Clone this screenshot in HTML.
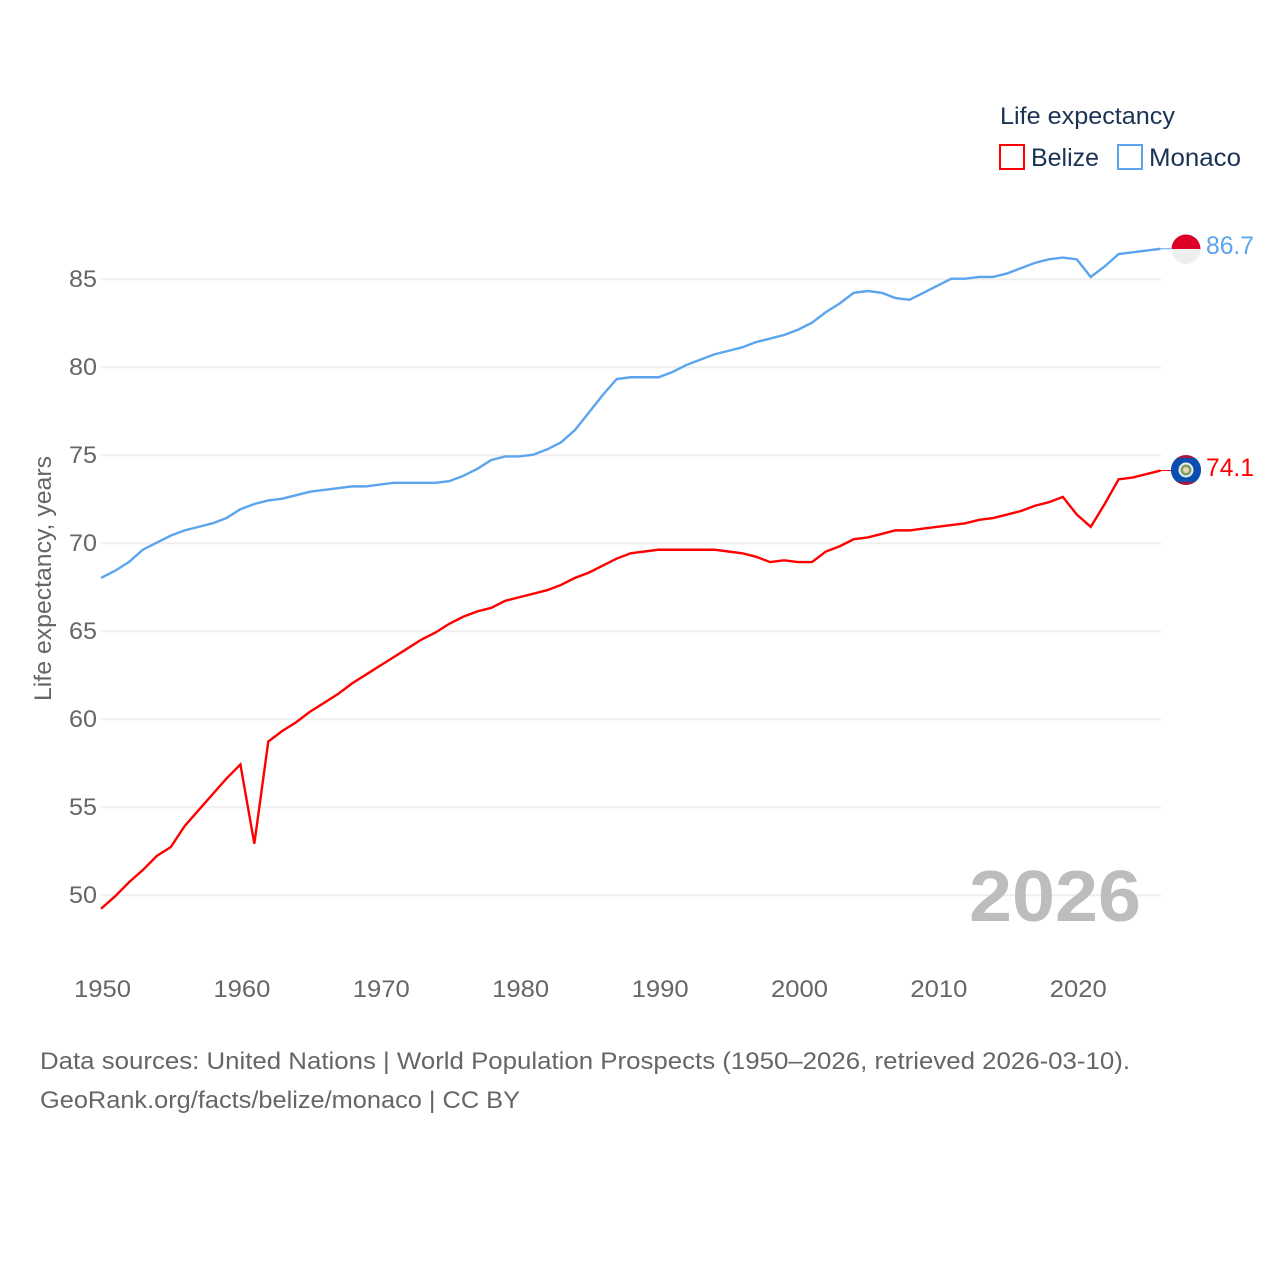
<!DOCTYPE html>
<html lang="en">
<head>
<meta charset="utf-8">
<title>Life expectancy: Belize and Monaco</title>
<style>
html,body{margin:0;padding:0;background:#fff;width:1280px;height:1280px;overflow:hidden}
svg{display:block;font-family:"Liberation Sans",sans-serif}
</style>
</head>
<body>
<svg id="chart" xmlns="http://www.w3.org/2000/svg" width="1280" height="1280" viewBox="0 0 1280 1280">
  <rect width="1280" height="1280" fill="#fff"/>
  <g id="grid"></g>
  <g id="yticks"></g>
  <g id="xticks"></g>
  <text transform="translate(51,701) rotate(-90)" font-size="24" fill="#666" textLength="245" lengthAdjust="spacingAndGlyphs">Life expectancy, years</text>
  <text x="969" y="921" font-size="72" font-weight="bold" fill="#bdbdbd" textLength="172" lengthAdjust="spacingAndGlyphs">2026</text>
  <g id="series" transform="translate(0,-0.6)"></g>

  <g>
    <text x="1000" y="124" font-size="24" fill="#1a3355" textLength="175" lengthAdjust="spacingAndGlyphs">Life expectancy</text>
    <g>
      <rect x="1000" y="145" width="24" height="24" fill="#fff" stroke="#ff0000" stroke-width="2"/>
      <text x="1031" y="166" font-size="25" fill="#1a3355" textLength="68" lengthAdjust="spacingAndGlyphs">Belize</text>
    </g>
    <g>
      <rect x="1118" y="145" width="24" height="24" fill="#fff" stroke="#5ba4ee" stroke-width="2"/>
      <text x="1149" y="166" font-size="25" fill="#1a3355" textLength="92" lengthAdjust="spacingAndGlyphs">Monaco</text>
    </g>
  </g>

  <g>
    <path d="M1171.5 249 a14.5 14.5 0 0 1 29 0 z" fill="#dc0028"/>
    <path d="M1171.5 249 a14.5 15 0 0 0 29 0 z" fill="#eeeeee"/>
  </g>
  <text x="1206" y="254" font-size="25" fill="#5ba4ee" textLength="48" lengthAdjust="spacingAndGlyphs">86.7</text>

  <g>
    <circle cx="1186" cy="470" r="15" fill="#a8173f"/>
    <path d="M1177 458 h18 A15 15 0 0 1 1195 482 h-18 A15 15 0 0 1 1177 458 z" fill="#0a4fb0"/>
    <circle cx="1186" cy="470" r="7.5" fill="#e9eef0"/>
    <circle cx="1186" cy="470" r="5.5" fill="#7ea05f"/>
    <circle cx="1186" cy="470" r="3" fill="#e8d8b8"/>
  </g>
  <text x="1206" y="476" font-size="25" fill="#ff0000" textLength="48" lengthAdjust="spacingAndGlyphs">74.1</text>

  <text x="40" y="1069" font-size="24.5" fill="#666" textLength="1090" lengthAdjust="spacingAndGlyphs">Data sources: United Nations | World Population Prospects (1950–2026, retrieved 2026-03-10).</text>
  <text x="40" y="1108" font-size="24.5" fill="#666" textLength="480" lengthAdjust="spacingAndGlyphs">GeoRank.org/facts/belize/monaco | CC BY</text>
</svg>
<script>
const years = [1950,1951,1952,1953,1954,1955,1956,1957,1958,1959,1960,1961,1962,1963,1964,1965,1966,1967,1968,1969,1970,1971,1972,1973,1974,1975,1976,1977,1978,1979,1980,1981,1982,1983,1984,1985,1986,1987,1988,1989,1990,1991,1992,1993,1994,1995,1996,1997,1998,1999,2000,2001,2002,2003,2004,2005,2006,2007,2008,2009,2010,2011,2012,2013,2014,2015,2016,2017,2018,2019,2020,2021,2022,2023,2024,2025,2026];
const belize = [49.2,49.9,50.7,51.4,52.2,52.7,53.9,54.8,55.7,56.6,57.4,52.9,58.7,59.3,59.8,60.4,60.9,61.4,62.0,62.5,63.0,63.5,64.0,64.5,64.9,65.4,65.8,66.1,66.3,66.7,66.9,67.1,67.3,67.6,68.0,68.3,68.7,69.1,69.4,69.5,69.6,69.6,69.6,69.6,69.6,69.5,69.4,69.2,68.9,69.0,68.9,68.9,69.5,69.8,70.2,70.3,70.5,70.7,70.7,70.8,70.9,71.0,71.1,71.3,71.4,71.6,71.8,72.1,72.3,72.6,71.6,70.9,72.2,73.6,73.7,73.9,74.1];
const monaco = [68.0,68.4,68.9,69.6,70.0,70.4,70.7,70.9,71.1,71.4,71.9,72.2,72.4,72.5,72.7,72.9,73.0,73.1,73.2,73.2,73.3,73.4,73.4,73.4,73.4,73.5,73.8,74.2,74.7,74.9,74.9,75.0,75.3,75.7,76.4,77.4,78.4,79.3,79.4,79.4,79.4,79.7,80.1,80.4,80.7,80.9,81.1,81.4,81.6,81.8,82.1,82.5,83.1,83.6,84.2,84.3,84.2,83.9,83.8,84.2,84.6,85.0,85.0,85.1,85.1,85.3,85.6,85.9,86.1,86.2,86.1,85.1,85.7,86.4,86.5,86.6,86.7];
const yTickValues = [50,55,60,65,70,75,80,85];
const xTickValues = [1950,1960,1970,1980,1990,2000,2010,2020];

const NS = 'http://www.w3.org/2000/svg';
const xScale = function (year) { return 101 + (year - 1950) * 13.94; };
const yScale = function (value) { return 895.3 - (value - 50) * 17.6; };

const gridGroup = document.getElementById('grid');
const yGroup = document.getElementById('yticks');
const xGroup = document.getElementById('xticks');
const seriesGroup = document.getElementById('series');

yTickValues.forEach(function (v) {
  const line = document.createElementNS(NS, 'line');
  
  
  line.setAttribute('x1', 101);
  line.setAttribute('x2', 1161);
  line.setAttribute('y1', yScale(v));
  line.setAttribute('y2', yScale(v));
  line.setAttribute('stroke', '#eeeeee');
  line.setAttribute('stroke-width', 1.8);
  gridGroup.appendChild(line);

  const label = document.createElementNS(NS, 'text');
  
  
  label.setAttribute('x', 69);
  label.setAttribute('y', yScale(v) + 7.7);
  label.setAttribute('font-size', 24.5);
  label.setAttribute('fill', '#666');
  label.setAttribute('textLength', 28);
  label.setAttribute('lengthAdjust', 'spacingAndGlyphs');
  label.textContent = String(v);
  yGroup.appendChild(label);
});

xTickValues.forEach(function (v) {
  const label = document.createElementNS(NS, 'text');
  
  
  label.setAttribute('x', xScale(v) - 27);
  label.setAttribute('y', 997);
  label.setAttribute('font-size', 24.5);
  label.setAttribute('fill', '#666');
  label.setAttribute('textLength', 57);
  label.setAttribute('lengthAdjust', 'spacingAndGlyphs');
  label.textContent = String(v);
  xGroup.appendChild(label);
});

function drawSeries(values, color, name) {
  const path = document.createElementNS(NS, 'path');
  let d = '';
  values.forEach(function (v, i) {
    d += (i === 0 ? 'M' : 'L') + xScale(years[i]).toFixed(2) + ' ' + yScale(v).toFixed(2);
  });
  
  
  path.setAttribute('d', d);
  path.setAttribute('fill', 'none');
  path.setAttribute('stroke', color);
  path.setAttribute('stroke-width', 2.4);
  path.setAttribute('stroke-linejoin', 'miter');
  seriesGroup.appendChild(path);

  const last = values.length - 1;
  const connector = document.createElementNS(NS, 'line');
  
  
  connector.setAttribute('x1', xScale(years[last]));
  connector.setAttribute('x2', 1171);
  connector.setAttribute('y1', yScale(values[last]));
  connector.setAttribute('y2', yScale(values[last]));
  connector.setAttribute('stroke', color);
  connector.setAttribute('stroke-width', 1);
  seriesGroup.appendChild(connector);
}

drawSeries(belize, '#ff0000', 'line-belize');
drawSeries(monaco, '#5ba4ee', 'line-monaco');
</script>
</body>
</html>
